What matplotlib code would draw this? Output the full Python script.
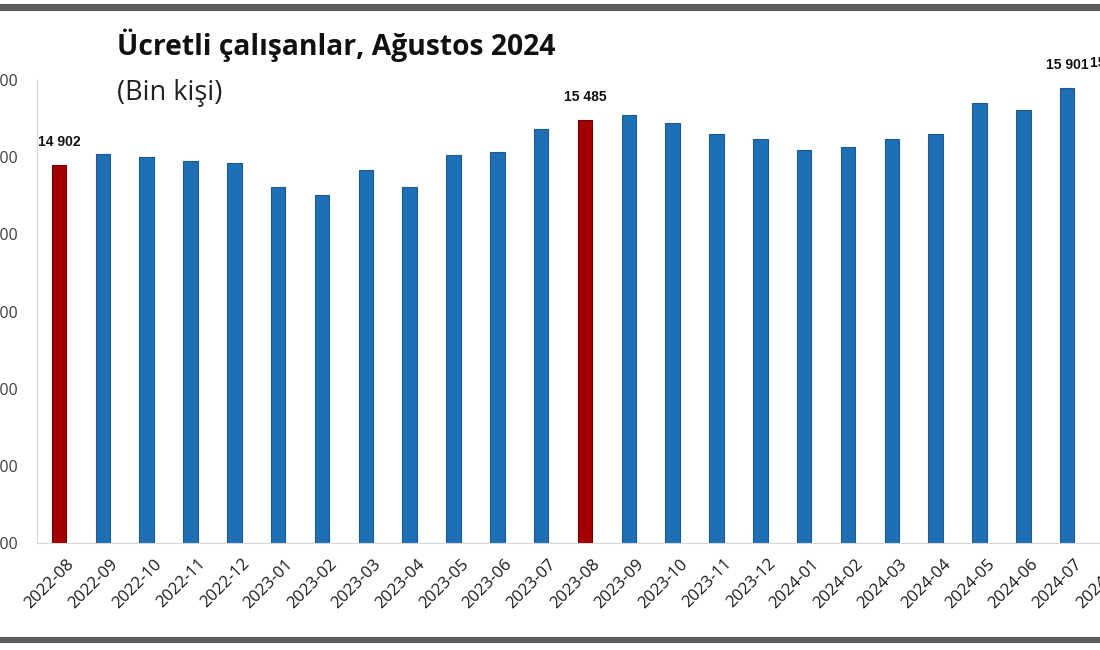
import matplotlib
matplotlib.use("Agg")
import matplotlib.pyplot as plt
from matplotlib.patches import Rectangle
from matplotlib.ticker import FuncFormatter
from matplotlib.transforms import ScaledTranslation

# aylar ve ücretli çalışan sayıları (bin kişi)
months = ["2022-08", "2022-09", "2022-10", "2022-11", "2022-12",
          "2023-01", "2023-02", "2023-03", "2023-04", "2023-05", "2023-06", "2023-07",
          "2023-08", "2023-09", "2023-10", "2023-11", "2023-12",
          "2024-01", "2024-02", "2024-03", "2024-04", "2024-05", "2024-06", "2024-07",
          "2024-08"]
values = [14902, 15045, 15006, 14955, 14929,
          14617, 14514, 14838, 14617, 15032, 15071, 15370,
          15485, 15551, 15447, 15305, 15240,
          15097, 15136, 15240, 15305, 15707, 15616, 15901,
          15930]
highlight = ["2022-08", "2023-08", "2024-08"]
labelled = ["2022-08", "2023-08", "2024-07", "2024-08"]

blue = "#1f6fb4"
red = "#a30000"

def fmt(v, pos=None):
    return "{:,}".format(int(v)).replace(",", " ")

fig = plt.figure(figsize=(11, 6.5), dpi=100)
fig.patch.set_facecolor("white")

# eksen sağ kenarı kasıtlı olarak figürün dışına taşıyor (kırpılmış görüntü)
ax = fig.add_axes([37 / 1100, 107 / 650, 1096 / 1100, 463 / 650])

x = list(range(len(months)))
colors = [red if m in highlight else blue for m in months]
edges = ["#6e0000" if m in highlight else "#1a5a94" for m in months]
ax.bar(x, values, width=0.33, color=colors, edgecolor=edges, linewidth=0.8)

for i, (m, v) in enumerate(zip(months, values)):
    if m in labelled:
        ax.annotate(fmt(v), (i, v), xytext=(0, 11), textcoords="offset points",
                    ha="center", va="bottom", fontsize=10, fontweight="bold",
                    family="Liberation Sans", color="#111111")

ax.set_xlim(-0.5, len(months) - 0.5)
ax.set_ylim(10000, 16000)
ax.set_yticks(range(10000, 16001, 1000))
ax.yaxis.set_major_formatter(FuncFormatter(fmt))
ax.set_xticks(x)
ax.set_xticklabels(months, rotation=45, ha="right", rotation_mode="anchor",
                   fontsize=12, family="Open Sans", color="#1a1a1a")
ax.tick_params(axis="x", length=0, pad=5)
ax.tick_params(axis="y", length=0, pad=14, labelsize=11.5, labelcolor="#404040")
for lab in ax.get_yticklabels():
    lab.set_family("Open Sans")

shift = ScaledTranslation(0.07, -0.06, fig.dpi_scale_trans)
for lab in ax.get_xticklabels():
    lab.set_transform(lab.get_transform() + shift)

for s in ["top", "right"]:
    ax.spines[s].set_visible(False)
ax.spines["left"].set_color("#d9d9d9")
ax.spines["bottom"].set_color("#d9d9d9")

fig.text(117 / 1100, 1 - 45 / 650, "Ücretli çalışanlar, Ağustos 2024", fontsize=20.3,
         fontweight="bold", family="Open Sans", color="#111111", va="center", ha="left")
fig.text(117 / 1100, 1 - 93 / 650, "(Bin kişi)", fontsize=19.5, family="Open Sans",
         color="#222222", va="center", ha="left")

# üst ve alt gri çerçeve şeritleri
fig.add_artist(Rectangle((0, 1 - 11 / 650), 1, 7 / 650, transform=fig.transFigure,
                         color="#5e5e5e", lw=0))
fig.add_artist(Rectangle((0, 1 - 643 / 650), 1, 6 / 650, transform=fig.transFigure,
                         color="#5e5e5e", lw=0))

fig.savefig("out.png", dpi=100)
